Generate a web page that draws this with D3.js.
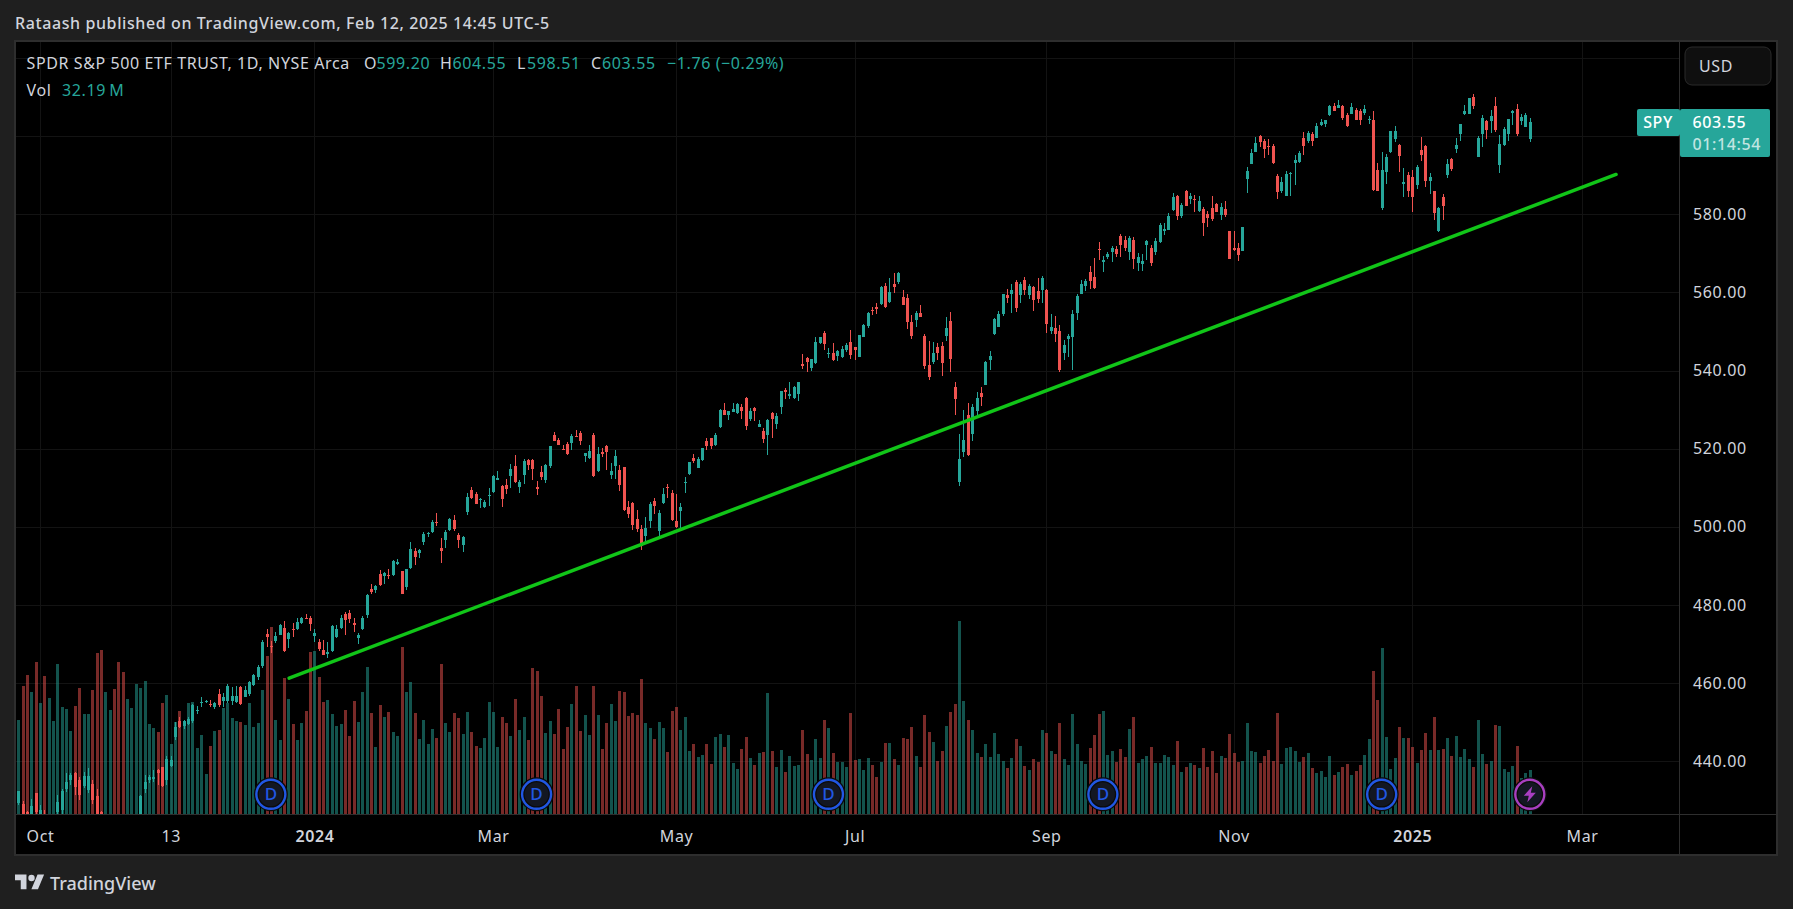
<!DOCTYPE html>
<html>
<head>
<meta charset="utf-8">
<script src="https://cdn.jsdelivr.net/npm/d3@7"></script>
<style>
html, body { margin: 0; padding: 0; background: #1f1f1f; overflow: hidden; }
svg { display: block; }
text { font-family: "Noto Sans", sans-serif; font-size: 16px; letter-spacing: 0.6px; }
</style>
</head>
<body>
<div id="chart"></div>
<script>
var width = 1793,
    height = 909;

var opens = [425,
  429.2,429.1,427,425,431.9,425.5,426.5,423,422,
  427,427.5,432.8,435.2,436.9,435.2,433.7,432.7,434.2,431.1,
  427,416,418,420,417,414,411,415,419,425,
  432.9,435.2,435.5,437.7,438.5,435.2,438.9,446.2,450.3,449,
  449.6,450.3,453,455,455.2,454.6,453.8,457.2,455.4,455.4,
  455.4,455.1,459,456.5,457.2,459.5,461.5,464.4,472.6,469.5,
  470.7,472.3,474,471.3,473.8,473.9,475.3,476.8,476.6,472.1,
  470.5,468.5,467.5,468.3,471.7,474,477.6,477.9,475.3,471.6,
  473.9,477.5,484.1,483.9,488,487.5,487.7,487.7,490.5,488.6,
  484.5,489.5,493.8,493.3,496.1,498.2,498.7,501.3,494.6,496.7,
  499.2,501.8,497.9,495.4,503.8,509.4,508.4,507,505.1,508,
  508.9,512,510.5,510.7,513,515.6,510.2,513.3,517.1,517.1,
  510.2,514,512,515.6,523.5,522.2,519.9,521.2,521.5,523.3,
  524,518.2,517.6,523.5,514.3,519.2,520.7,513.3,515.6,514.6,
  515.3,505.1,506.1,502,499.5,497.7,501.5,506.6,499,506,
  510.3,508.7,501.5,504.1,511.3,513.5,517.6,515.1,517.1,522,
  522.8,521,525.6,529.9,528.6,529.4,529.2,530.7,533,527.6,
  530.4,525.6,524.6,523.5,529.1,526.3,530.7,535,533.5,533,
  534,541.7,543.2,540.7,542,547.1,549.6,544.4,544.5,543.7,
  543.5,545.3,547.3,546,543.5,548.6,551.4,555.5,556.3,557.1,
  561.7,557.6,562.2,562.7,558.8,558.6,552.4,552.9,554.7,548.9,
  541.4,542.2,546,546.3,548.9,552.7,535.8,511.5,519.2,528.6,
  523.8,529.7,534.3,536.3,542.7,549.4,551.2,554.5,559.4,559.6,
  562.7,559.4,563.2,559.4,561.4,560.4,560.6,560.6,550.1,550.9,
  550.1,544.5,548.1,548.6,554.7,559.6,561.7,565.2,564,571.1,
  567.8,569.1,570.4,571.1,574.5,573.4,570.4,573.4,567.6,567.3,
  572.2,571.4,570.4,572.9,575.7,576,581.1,584.7,579.6,586,
  583.9,583.9,580.9,581.4,580.1,581.6,582.6,579.8,581.4,575.7,
  571.4,571.4,570.6,589,592.9,596,600,598.8,597.5,597.5,
  589.8,586,584.7,590.4,593.1,593.4,599.5,598.8,600.6,599.5,
  602.9,603.1,605.4,607.7,607.2,607.7,605.4,605.7,606.7,606.4,
  605.9,604.2,604.1,591.4,581.6,590.8,596,599.3,597.7,587.8,
  590,589.6,587.5,596.5,597.5,588.5,586,575.7,584.4,590.1,
  594.2,596.7,600.6,605.7,605.7,610,594.7,600.6,603.9,603.9,
  607.7,592.6,597.7,600.6,605.9,607,603.9,602.4,599.2];

var highs = [425.5,
  432.5,429.8,427.4,430.3,431.9,428.8,427.5,426,426,
  431.4,433,437,437,437.3,435.9,437.3,438.2,435.2,432.9,
  427.2,420,421,421,418,415,415,419,424,431.5,
  436.5,436.5,437.8,438,438.6,441.4,441.4,450,451.4,450.6,
  451.4,454.7,454.1,456.4,455.7,455.7,455.2,458.5,457.6,459.8,
  459.1,459.3,459.3,459.3,460.6,462.3,464.7,471,473.8,470.8,
  473,475.1,475.9,473.2,475.3,476.6,476.9,477.6,477.2,473.8,
  471.3,471.1,470.5,475,474.9,477.4,478.1,478.7,476.6,472.8,
  477.1,482.8,485.4,485.1,489,488.5,489.2,491.5,491.8,488.8,
  489.2,496.1,494.5,494.4,498.6,498.6,501.7,503.6,497.2,499.2,
  502.3,503,498.4,497.6,508.7,510.2,508.9,507.3,506.8,509.9,
  513.3,514.3,510.7,512.2,516.1,518.4,512,517.4,517.4,517.4,
  511.8,515.6,516.1,520.7,524.3,522.8,521,521.7,523.8,524.8,
  524.5,519,521,524,520.4,520.2,521,516.4,519.7,515.8,
  515.3,506.6,506.4,504.3,500.5,502.5,506.4,507.4,504.3,510,
  511,509.4,508.4,506.1,512.8,516.6,518.7,517.9,520.2,522.8,
  522.8,524,530.2,531.7,529.7,531.7,531.7,531.5,533.3,530.4,
  530.7,527.4,525.3,527.6,529.4,529.1,534.8,535.5,537.1,536.1,
  537.1,544.3,543.5,543,548.6,548.6,550.1,545.8,547,545.3,
  546.3,547.1,550.4,546.1,549.1,552,555.1,556.3,557.3,561.7,
  562.4,563.7,565,565.2,560.6,559.6,554.2,555.3,556.8,549.4,
  547.6,547.3,547.1,547.3,553.7,555,537.1,523.8,529.9,531.7,
  531.5,534.5,535.8,542.4,545,553.5,555.3,559.6,560.9,562.2,
  563.2,562.7,564,562.2,561.7,563.7,564.2,560.9,554.5,554,
  551.7,547.8,549.4,555.5,559.6,563.2,563.4,566.8,568.8,572.8,
  569.3,570.4,572,571.9,574.9,574.4,574.5,574.1,570.1,569.9,
  573.4,572.2,574,577.8,577.8,580.4,585.5,585,582.9,586.2,
  585.5,585,584.7,581.9,580.8,584.7,582.9,582.9,583.4,575.7,
  575.7,572.7,576.8,592.1,596.7,599.8,600.3,599.3,599.3,598,
  590.3,589.6,591.1,590.8,595.2,596.2,601.1,601.3,601.1,603.4,
  604.4,604.1,608,608.5,609.3,608,605.9,608.5,607.2,607,
  608,605.2,606.4,593.1,596,595.5,601.3,602.6,598,591.9,
  590.8,591.4,592.6,599.8,597.7,590.6,586,581.9,585.2,594.2,
  594.4,599.5,603.1,608,609.8,610.8,600,605.4,604.1,606.7,
  610,600.3,602.4,604.4,606.6,608.2,605.7,606,604.55];

var lows = [422,
  428.8,424,424,424,425,424,424,422,421,
  425,426,432.2,434,431.4,430.1,433.1,432,429.1,425,
  424,415,417,416,412,410,410,414,418,424,
  432,434.4,434.8,433.9,433.5,433.9,438.6,445.5,448.4,448.2,
  449.3,449.8,452.1,453.8,454.9,454,453.4,453.8,454,454.8,
  454.4,454.8,454.4,456.4,456.7,459.2,460.8,464,469.3,467.6,
  470.2,472.2,468,469,471.8,473.6,475.1,476.3,473.4,470.5,
  468.3,467.1,466.5,468,471.5,473.8,472.3,475.5,473.1,470,
  473.6,476.7,482.8,483.2,484.9,485.3,486.7,487.3,490.2,482.7,
  483.9,489.2,490.2,492,495.4,497.4,498.4,500.2,490.8,494.6,
  499,499,494.6,493.6,503,507.2,505.8,504.8,504.9,505.4,
  508.7,512,505.1,508.4,510,511.2,508.7,511,514.6,512,
  508.2,512,511.2,515.1,522,521,519.6,518.4,519.7,523,
  521,516.6,517.4,512.8,514,517.9,514.6,512.3,512.3,509.2,
  504,502.3,499.2,498.7,494.1,496,499.7,503.3,497.7,505.9,
  507.4,501.5,499.7,499.7,508.7,513.3,516.3,515,516.9,519.7,
  520,520.7,525.3,528.6,527.4,529.4,529,527.6,524.8,527.1,
  527.1,525.5,521.5,518.4,522.8,525.1,528.9,532.7,532.7,532.7,
  532.2,540.4,539.6,539.9,541.7,546.8,545.3,543.2,542.5,542.5,
  543.2,544.8,543,542.7,543.5,548.6,551,554.2,554.5,556.8,
  556,557.3,559.9,562.2,556.8,550.7,548.1,551.2,553.7,540.4,
  537.6,541.7,542.7,538.6,547.6,539.6,528.6,510.5,517.9,518.2,
  522,528.6,530.9,536.3,540.2,549.1,551.2,554,557.2,554.7,
  555,557.3,559.3,558.3,555.3,557.3,557.3,549.6,549.4,547.3,
  539.7,542.7,543.5,540.2,553,559.6,560.4,560.9,560.9,568.3,
  565.2,568.6,567.8,569.1,569.1,570.6,568.3,566,565.5,565.5,
  568.3,566.8,569.6,572.7,574.7,576,580.9,578.6,579.1,582,
  582.6,580.6,580.6,574.5,576.8,578.3,580.5,578.5,579.3,568.6,
  570.5,568.1,570.6,585.5,592.9,596,597.2,594.4,595.2,592.9,
  583.9,585.5,584.7,584.7,587.5,593.1,595.2,598.3,597.5,599.5,
  602.6,602.4,605.2,606.5,607.2,604.1,602.4,605.7,604.1,602.9,
  605.4,603.1,586,586,581.1,587.8,595.7,598.5,590.8,584.4,
  584.4,580.6,586.5,593.7,587,585.2,578.6,575.5,578.6,589.3,
  591.1,595.7,598.8,605.4,605.7,607,594.7,597.2,599.3,600.8,
  601.1,590.6,597.5,598.8,602.9,600,602.9,602.4,598.51];

var closes = [423,
  432.4,425,425,428.5,427,427.5,425,425,425,
  429.6,432.4,434.7,436.5,433.5,431.4,436.2,436.2,430.1,426,
  425,419,420,417,413,411,414,418,423,431,
  434.7,435.9,436,437,433.7,440.6,440.3,448.9,448.9,450.3,
  450.9,454.4,453.2,455.3,455.4,454.3,454.8,454.4,456.5,459.3,
  456.7,456.7,454.7,458.2,460.4,462.1,464.2,470.6,471.9,469.3,
  472.1,474.9,468.2,472.8,473.6,475.7,476.6,476.6,475.2,472.8,
  468.7,467.2,467.9,474.6,473.9,476.6,476.2,476.4,474.9,472.3,
  476.7,482.6,483.3,484.9,485.1,488.2,487.4,491.3,491,482.8,
  489.2,494.4,492.3,494.1,498.2,498.4,501.3,501,493.9,498.7,
  502,499.5,496.7,497.4,507.6,507.5,505.9,507.1,506.4,508.1,
  513,512.4,507.2,509.7,514.8,511.5,511.5,516.9,515.8,514.8,
  509.7,512.7,515.8,520.7,522,521,519.7,518.7,523.3,523,
  522,518.9,519.4,513,518.7,518.7,519.2,514.3,518.1,510.7,
  504.3,503.3,500.5,499.5,495.1,499.7,505.9,505.4,503.6,508.4,
  510,501.8,500,505.1,511.5,516.6,516.8,517.4,520.2,520.7,
  520.7,523.5,529.9,528.6,529.7,530.2,531.5,529.7,525.8,529.7,
  529.7,526.3,522.5,527.4,527.6,528.4,534.8,534.5,534,535.8,
  537.1,541.2,542.2,543,547.3,548.6,546.8,544.6,542.7,545,
  545.5,546.6,544,545.3,549.1,551.7,554.7,555.2,555.8,561.4,
  556.3,560.1,561.4,565,556.8,552.4,548.9,554.7,553.7,541.2,
  538.4,544.5,544.5,541.9,550.9,543,532.7,517.4,522.2,518.4,
  530.7,533,533.3,542.2,543.7,553.2,554.5,559.6,558.5,560.6,
  556,562.2,560.6,561.7,558.1,558.3,563.7,551.9,551.2,549.4,
  540.2,546.6,548.9,554.5,559.1,562.2,562.9,562.9,561.1,570.9,
  568.3,569.8,571.4,569.8,572.2,571.4,573.9,568.6,569.1,568,
  573.2,567.5,573.2,577.3,576.2,579.6,584.4,579.6,582.4,582.1,
  584.7,583.7,583.4,577.8,579,578.8,580.6,581.9,579.8,568.6,
  570.9,569.6,576.8,591.1,595.7,598.3,598.5,596.7,597.2,593.1,
  585.7,588.3,590.3,590.6,593.9,595.7,597.5,600.8,598.8,602.6,
  603.6,604.1,607.7,606.5,608,604.7,602.6,607.5,604.1,604.1,
  606.9,604.3,586.2,586,591.4,594.7,601.3,601.3,594.9,588.3,
  586,584.4,592.1,595.2,588.5,589.6,580.3,581.6,582.1,592.9,
  591.6,597.7,603.1,606.4,609.8,607.7,599.5,604.7,601.6,605.2,
  601.6,598,601.8,604.4,606.4,600.6,604.9,605.4,603.55];

// volume in millions
var volumes = [98,
  68.8,93.7,101.7,89.3,111.2,81.2,101,84.9,68,109.8,78.3,76.8,60.7,79,92.2,73.2,73.2,90.7,117.8,120,
  89.3,76.1,91.5,111.2,103.9,84.1,77.6,95.1,92.2,97.3,65.9,62.9,60,81.2,87.1,51.2,67.1,75.4,68,81.2,
  82,48.3,57.8,29.3,49.8,60.7,61.5,77.6,81.2,70.2,68,67.3,65.1,81.2,63.7,66.6,90.7,115.6,136.8,68.8,
  54.1,99.5,84.1,65.9,54.1,66.6,75.4,118.5,119.3,100.2,82,83.4,73.2,64.4,65.9,76.1,57.1,82.7,67.3,89.3,
  107.6,73.9,49,79.8,71,74.6,60,57.1,122.2,89.3,96.6,73.9,54.9,68.8,51.2,62.2,55.6,109.8,66.6,60,
  73.9,70.2,58.5,74.6,60,49.8,48.3,55.6,82,74.6,49,71,66.6,57.1,84.1,61.5,71,54.1,106.8,104.6,
  86.3,59.3,68,58.5,76.8,47.6,63.7,80.5,93.7,60.7,72.4,57.8,93.7,72.4,47.6,66.6,80.5,68,90,89.3,
  71.7,73.9,72.4,98.8,66.6,62.9,54.9,67.3,62.9,45.4,75.4,78.3,61.5,71,46.1,51.2,41.7,43.2,51.2,36.6,
  56.3,58.5,49,57.8,37.3,32.9,47.6,56.3,41,35.9,44.6,45.4,88.5,46.1,34.4,46.8,30.7,42.4,35.1,35.9,
  61.5,43.9,39.5,54.9,41,68.8,62.9,44.6,38,38,34.4,73.9,39.5,40.2,32.2,41,35.9,27.1,38,52,
  52,40.2,35.9,55.6,54.9,63.7,42.4,34.4,72.4,60,52.7,38.8,46.1,64.4,74.6,80.5,141.2,82.7,68.8,61.5,
  44.6,41.7,51.2,41.7,59.3,43.9,38.8,33.7,41,54.9,49.8,35.1,32.2,40.2,38,61.5,59.3,46.1,43.9,66.6,
  40.2,35.9,73.2,51.2,38.8,36.6,48.3,57.8,73.2,75.4,43.2,46.1,38,47.6,41.7,62.2,71,37.3,40.2,42.4,
  49,37.3,37.3,43.2,41.7,35.9,53.4,30.7,34.4,37.3,35.9,33.7,48.3,34.4,46.1,30,42.4,41,58.5,44.6,
  38,38.8,66.6,46.1,45.4,37.3,42.4,46.8,38.8,73.9,36.6,48.3,49,46.1,38,41.7,44.6,33.7,30,31.5,
  27.1,42.4,28.5,30.7,34.4,36.6,28.5,31.5,35.9,43.2,54.9,104.6,83.4,121.5,56.3,32.9,41,63.7,55.6,55.6,
  49,37.3,46.8,59.3,46.8,71,46.8,47.6,55.6,42.4,57.1,41.7,47.6,40.2,34.4,68.8,43.9,36.6,38.8,65.1,
  64.4,32.9,30.7,35.1,49.8,26.3,30,32.19];

var priceTicks = [440, 460, 480, 500, 520, 540, 560, 580];
var priceGrid = [440, 460, 480, 500, 520, 540, 560, 580, 600, 620];

// bar index of each time axis label
var timeTicks = [6, 36, 69, 110, 152, 193, 237, 280, 321, 360];
var timeLabels = ["Oct", "13", "2024", "Mar", "May", "Jul", "Sep", "Nov", "2025", "Mar"];

// bar index, price of the drawn trend line ends
var trendBars = [63.2, 367.8];
var trendPrices = [461.3, 590.2];

var dividendBars = [59, 120, 187, 250, 314];
var lastBar = 348;
var lastPrice = 603.55;

var bars = opens.map(function(o, i) {
    return {i: i, o: o, h: highs[i], l: lows[i], c: closes[i], v: volumes[i], up: closes[i] >= o};
});

var upColor = "#26a69a",
    downColor = "#ef5350",
    textColor = "#d1d4dc",
    gridColor = "#131313",
    lineColor = "#2e2e2e";

var paneLeft = 16,
    paneRight = 1679,
    paneTop = 42,
    paneBottom = 814,
    frameRight = 1777,
    frameBottom = 855;

var x = d3.scaleLinear()
    .domain([0, bars.length - 1])
    .range([13.84, 1529.8]);

var y = d3.scaleLinear()
    .domain([440, 620])
    .range([761.3, 58]);

var yVol = d3.scaleLinear()
    .domain([0, 141.2])
    .range([paneBottom, paneBottom - 193]);

var svg = d3.select("#chart").append("svg")
    .attr("width", width)
    .attr("height", height);

svg.append("rect")
    .attr("x", 15).attr("y", 41)
    .attr("width", frameRight - 15).attr("height", frameBottom - 41)
    .attr("fill", "#000")
    .attr("stroke", lineColor)
    .attr("stroke-width", 2);

svg.append("clipPath").attr("id", "pane")
    .append("rect")
    .attr("x", paneLeft).attr("y", paneTop)
    .attr("width", paneRight - paneLeft).attr("height", paneBottom - paneTop);

// grid
svg.append("g").selectAll("line")
    .data(priceGrid)
    .enter().append("line")
    .attr("x1", paneLeft).attr("x2", paneRight)
    .attr("y1", function(d) { return Math.round(y(d)) + 0.5; })
    .attr("y2", function(d) { return Math.round(y(d)) + 0.5; })
    .attr("stroke", gridColor);

svg.append("g").selectAll("line")
    .data(timeTicks)
    .enter().append("line")
    .attr("x1", function(d) { return Math.round(x(d)) + 0.5; })
    .attr("x2", function(d) { return Math.round(x(d)) + 0.5; })
    .attr("y1", paneTop).attr("y2", paneBottom)
    .attr("stroke", gridColor);

var plot = svg.append("g").attr("clip-path", "url(#pane)");

// volume first so the candles sit over it
plot.append("g").selectAll("rect")
    .data(bars)
    .enter().append("rect")
    .attr("x", function(d) { return Math.round(x(d.i)) - 1; })
    .attr("width", 3)
    .attr("y", function(d) { return Math.round(yVol(d.v)); })
    .attr("height", function(d) { return paneBottom - Math.round(yVol(d.v)); })
    .attr("fill", function(d) { return d.up ? upColor : downColor; })
    .attr("fill-opacity", 0.5);

var candle = plot.append("g").selectAll("g")
    .data(bars)
    .enter().append("g")
    .attr("fill", function(d) { return d.up ? upColor : downColor; });

candle.append("rect")
    .attr("x", function(d) { return Math.round(x(d.i)); })
    .attr("width", 1)
    .attr("y", function(d) { return Math.round(y(d.h)); })
    .attr("height", function(d) { return Math.max(1, Math.round(y(d.l)) - Math.round(y(d.h))); });

candle.append("rect")
    .attr("x", function(d) { return Math.round(x(d.i)) - 1; })
    .attr("width", 3)
    .attr("y", function(d) { return Math.round(y(Math.max(d.o, d.c))); })
    .attr("height", function(d) { return Math.max(1, Math.round(y(Math.min(d.o, d.c))) - Math.round(y(Math.max(d.o, d.c)))); });

svg.append("line")
    .attr("x1", x(trendBars[0])).attr("y1", y(trendPrices[0]))
    .attr("x2", x(trendBars[1])).attr("y2", y(trendPrices[1]))
    .attr("stroke", "#11c518")
    .attr("stroke-width", 3.5)
    .attr("stroke-linecap", "round");

// scale separators
svg.append("line")
    .attr("x1", paneRight + 0.5).attr("x2", paneRight + 0.5)
    .attr("y1", 41).attr("y2", frameBottom)
    .attr("stroke", lineColor);
svg.append("line")
    .attr("x1", 15).attr("x2", frameRight)
    .attr("y1", paneBottom + 0.5).attr("y2", paneBottom + 0.5)
    .attr("stroke", lineColor);

// axes
var priceAxis = svg.append("g")
    .attr("transform", "translate(1693,0)")
    .call(d3.axisRight(y).tickValues(priceTicks).tickSize(0).tickPadding(0).tickFormat(d3.format(".2f")));
priceAxis.select(".domain").remove();
priceAxis.selectAll("text")
    .attr("fill", textColor)
    .style("font-size", "16px");

var timeAxis = svg.append("g")
    .attr("transform", "translate(0,830)")
    .call(d3.axisBottom(x).tickValues(timeTicks).tickSize(0).tickPadding(0)
        .tickFormat(function(d, i) { return timeLabels[i]; }));
timeAxis.select(".domain").remove();
timeAxis.selectAll("text")
    .attr("fill", textColor)
    .attr("dy", "0.35em")
    .attr("y", 6)
    .style("font-size", "16px")
    .style("font-weight", function(d, i) { return timeLabels[i].length === 4 ? 600 : 400; });

// markers on the bottom of the pane
var markerY = 794.3;
var dividend = svg.append("g").selectAll("g")
    .data(dividendBars)
    .enter().append("g")
    .attr("transform", function(d) { return "translate(" + x(d) + "," + markerY + ")"; });
dividend.append("circle")
    .attr("r", 14.5)
    .attr("fill", "#131722")
    .attr("stroke", "#0b0b0b")
    .attr("stroke-width", 5);
dividend.append("circle")
    .attr("r", 14.5)
    .attr("fill", "none")
    .attr("stroke", "#2157e3")
    .attr("stroke-width", 2.4);
dividend.append("text")
    .attr("text-anchor", "middle")
    .attr("dy", "0.36em")
    .attr("fill", "#2157e3")
    .style("font-size", "17px")
    .style("font-weight", 500)
    .style("letter-spacing", "0")
    .text("D");

var bolt = svg.append("g")
    .attr("transform", "translate(" + x(lastBar) + "," + markerY + ")");
bolt.append("circle")
    .attr("r", 14.5)
    .attr("fill", "#131722")
    .attr("stroke", "#0b0b0b")
    .attr("stroke-width", 5);
bolt.append("circle")
    .attr("r", 14.5)
    .attr("fill", "none")
    .attr("stroke", "#a83fc0")
    .attr("stroke-width", 2.4);
bolt.append("path")
    .attr("d", "M2.5 -8 L-6 1.5 L-1 1.5 L-2.5 8 L6 -1.5 L1 -1.5 Z")
    .attr("fill", "#a83fc0");

// last price labels
svg.append("rect")
    .attr("x", 1637).attr("y", 109)
    .attr("width", 43).attr("height", 27)
    .attr("rx", 2)
    .attr("fill", upColor);
svg.append("text")
    .attr("x", 1658).attr("y", 122.5)
    .attr("text-anchor", "middle").attr("dy", "0.36em")
    .attr("fill", "#fff")
    .style("font-weight", 500)
    .text("SPY");
svg.append("rect")
    .attr("x", 1680).attr("y", 109)
    .attr("width", 90).attr("height", 48)
    .attr("rx", 2)
    .attr("fill", upColor);
svg.append("text")
    .attr("x", 1692.5).attr("y", 122.5)
    .attr("dy", "0.36em")
    .attr("fill", "#fff")
    .style("font-weight", 500)
    .text(lastPrice.toFixed(2));
svg.append("text")
    .attr("x", 1692.5).attr("y", 144.5)
    .attr("dy", "0.36em")
    .attr("fill", "#fff")
    .attr("fill-opacity", 0.72)
    .style("font-weight", 500)
    .text("01:14:54");

// currency button
svg.append("rect")
    .attr("x", 1685).attr("y", 47)
    .attr("width", 86).attr("height", 38)
    .attr("rx", 7)
    .attr("fill", "#0f0f0f")
    .attr("stroke", "#2a2a2a");
svg.append("text")
    .attr("x", 1699).attr("y", 66)
    .attr("dy", "0.36em")
    .attr("fill", textColor)
    .text("USD");

// header and legend
svg.append("text")
    .attr("x", 15).attr("y", 23)
    .attr("dy", "0.36em")
    .attr("fill", textColor)
    .style("font-weight", 500)
    .text("Rataash published on TradingView.com, Feb 12, 2025 14:45 UTC-5");

var legendWhite = [
    ["SPDR S&P 500 ETF TRUST, 1D, NYSE Arca", 26.5, 63],
    ["O", 364, 63], ["H", 440, 63], ["L", 517, 63], ["C", 591, 63],
    ["Vol", 26.5, 90]
];
var legendTeal = [
    ["599.20", 376.5, 63], ["604.55", 452.5, 63], ["598.51", 527, 63], ["603.55", 602, 63],
    ["\u22121.76 (\u22120.29%)", 667, 63],
    ["32.19\u2009M", 62, 90]
];
svg.append("g").selectAll("text")
    .data(legendWhite)
    .enter().append("text")
    .attr("x", function(d) { return d[1]; })
    .attr("y", function(d) { return d[2]; })
    .attr("dy", "0.36em")
    .attr("fill", textColor)
    .text(function(d) { return d[0]; });
svg.append("g").selectAll("text")
    .data(legendTeal)
    .enter().append("text")
    .attr("x", function(d) { return d[1]; })
    .attr("y", function(d) { return d[2]; })
    .attr("dy", "0.36em")
    .attr("fill", upColor)
    .text(function(d) { return d[0]; });

// logo
svg.append("path")
    .attr("transform", "translate(15,874.5) scale(0.82)")
    .attr("d", "M14 18H7V7H0V0h14v18zM28 18h-8l7.5-18h8L28 18z")
    .attr("fill", textColor);
svg.append("circle")
    .attr("cx", 31.5).attr("cy", 878)
    .attr("r", 3.2)
    .attr("fill", textColor);
svg.append("text")
    .attr("x", 50).attr("y", 884)
    .attr("dy", "0.36em")
    .attr("fill", textColor)
    .style("font-size", "18px")
    .style("font-weight", 500)
    .style("letter-spacing", "0")
    .text("TradingView");
</script>
</body>
</html>
